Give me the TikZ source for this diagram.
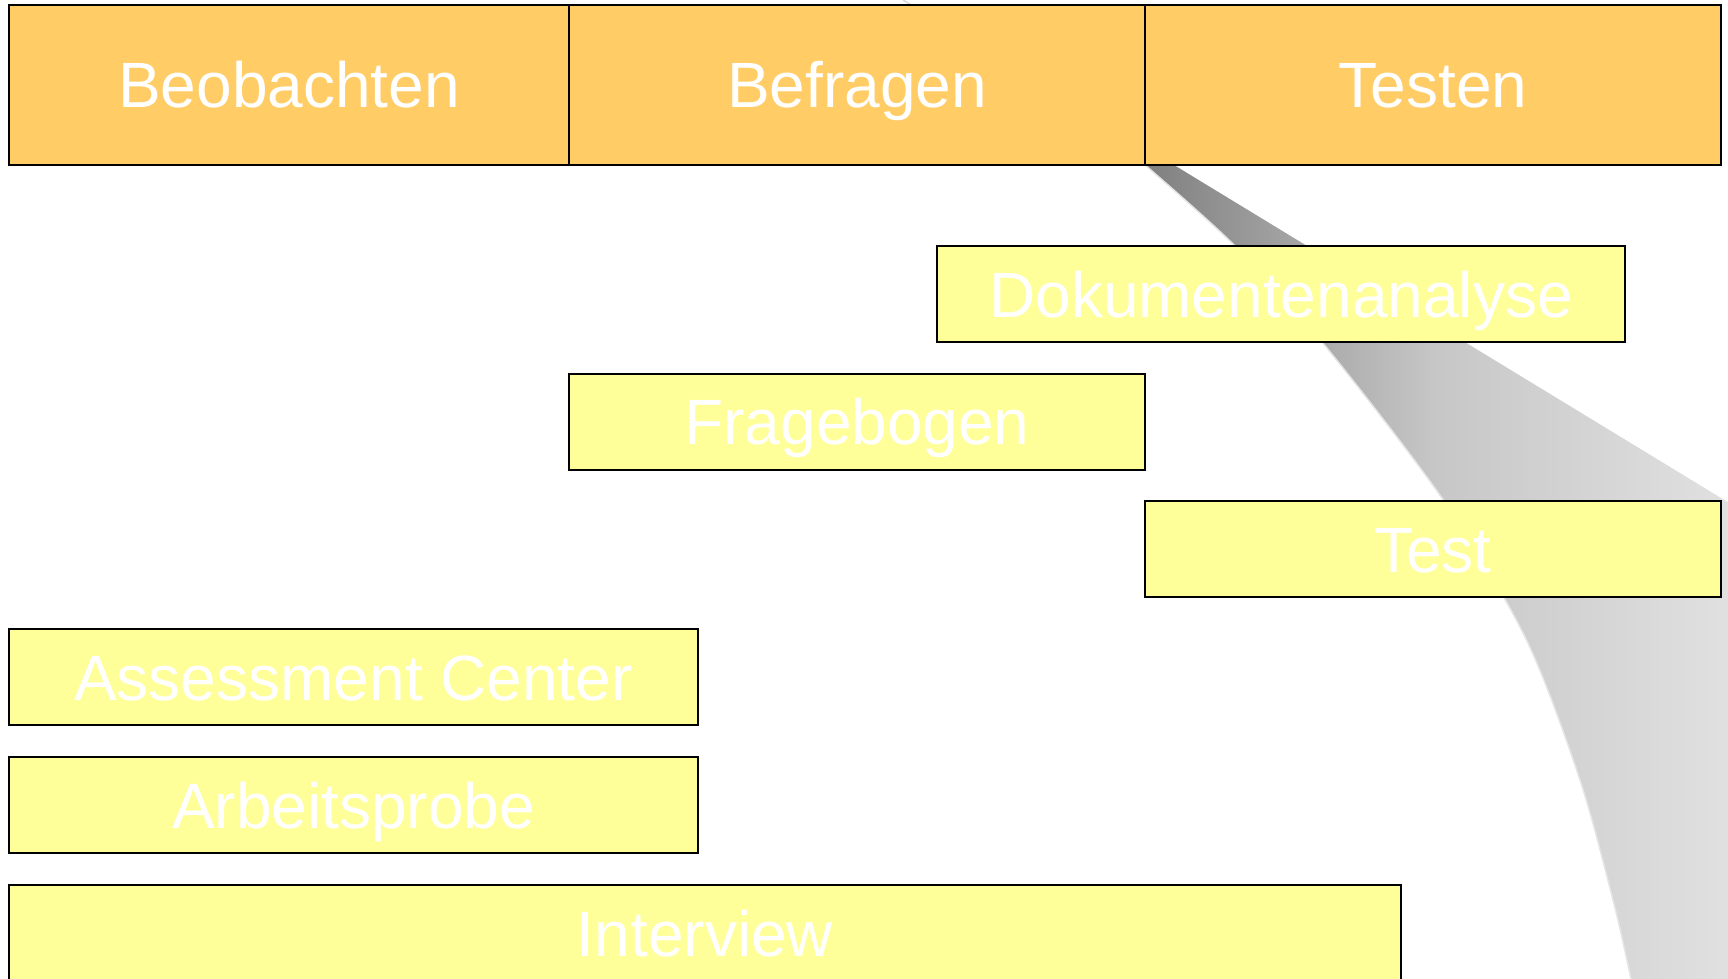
\documentclass[tikz,border=0pt]{standalone}
\usepackage{fontspec}
\setmainfont{Liberation Sans}
\definecolor{headorange}{RGB}{255,204,102}
\definecolor{methyellow}{RGB}{255,255,153}
\begin{document}
\begin{tikzpicture}[x=1pt,y=-1pt]
        \tikzstyle{phase}=[rectangle,draw=black,line width=2pt,fill=headorange,text=white,minimum width=576pt,minimum height=160pt,text height=46pt,text depth=0pt,inner sep=0pt,font=\fontsize{64}{72}\selectfont]
        \tikzstyle{method}=[phase,fill=methyellow,minimum height=96pt]
        \useasboundingbox (0,0) rectangle (1728,979);
        \clip (0,0) rectangle (1728,979);
        % grey wedge behind the boxes
        \shade[left color=black!50,right color=black!12,middle color=black!22] (1174,165) -- (1721,498) -- (1728,502) -- (1728,979)
          -- plot[smooth] coordinates {(1631,979) (1614,904) (1580,780) (1526,639) (1444,501) (1322,342) (1234,245) (1145,165)} -- cycle;
        \draw[black!10,line width=1.5pt] plot[smooth] coordinates {(1631,979) (1614,904) (1580,780) (1526,639) (1444,501) (1322,342) (1234,245) (1145,165)};
        \draw[black!15,line width=1.5pt] (903,0) -- (913,6);
       \begin{scope}
         \node [phase,minimum width=560pt] (beob) at (289,85) {Beobachten};
         \node [phase] (befr) at (857,85) {Befragen};
         \node [phase] (test) at (1433,85) {Testen};
         \node [method,minimum width=688pt] (doku) at (1281,294) {Dokumentenanalyse};
         \node [method] (frag) at (857,421.5) {Fragebogen};
         \node [method] (tst) at (1433,549) {Test};
         \node [method,minimum width=689pt] (ac) at (353.5,677) {Assessment Center};
         \node [method,minimum width=689pt] (arb) at (353.5,805) {Arbeitsprobe};
         \node [method,minimum width=1392pt] (intv) at (705,933) {Interview};
        \end{scope}
      \end{tikzpicture}
\end{document}
